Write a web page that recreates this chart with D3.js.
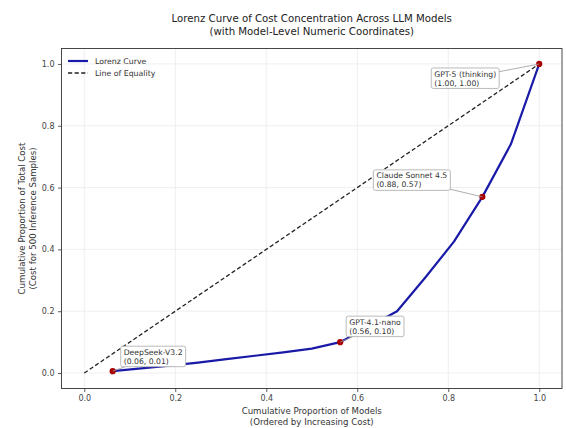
<!DOCTYPE html>
<html>
<head>
<meta charset="utf-8">
<script src="https://cdn.jsdelivr.net/npm/d3@7"></script>
<style>
  html, body { margin: 0; padding: 0; background: #fff; }
  svg { display: block; font-family: "DejaVu Sans", sans-serif; }
</style>
</head>
<body>
<svg id="chart" width="566" height="428"></svg>
<script>
// Cumulative share of models (sorted by increasing cost) and cumulative share of total cost
const modelShare = [0.0625, 0.125, 0.1875, 0.25, 0.3125, 0.375, 0.4375, 0.5,
                    0.5625, 0.625, 0.6875, 0.75, 0.8125, 0.875, 0.9375, 1.0];
const costShare  = [0.006, 0.015, 0.024, 0.034, 0.045, 0.056, 0.067, 0.079,
                    0.100, 0.150, 0.200, 0.310, 0.425, 0.570, 0.740, 1.000];

// Highlighted models and their position in the sorted list
const labelNames   = ["DeepSeek-V3.2", "GPT-4.1-nano", "Claude Sonnet 4.5", "GPT-5 (thinking)"];
const labelIndices = [0, 8, 13, 15];

const xTicks = [0.0, 0.2, 0.4, 0.6, 0.8, 1.0];
const yTicks = [0.0, 0.2, 0.4, 0.6, 0.8, 1.0];

const titleLines  = ["Lorenz Curve of Cost Concentration Across LLM Models",
                     "(with Model-Level Numeric Coordinates)"];
const xLabelLines = ["Cumulative Proportion of Models", "(Ordered by Increasing Cost)"];
const yLabelLines = ["Cumulative Proportion of Total Cost", "(Cost for 500 Inference Samples)"];
const legendItems = ["Lorenz Curve", "Line of Equality"];

// Label box offsets (px) from each highlighted point to the box's top-left corner
const labelOffsets = [[8, -25], [6, -26], [-109, -27], [-108, 4]];

const svg = d3.select("#chart");
const plot = { left: 61.5, right: 562, top: 48.5, bottom: 388.5 };

const x = d3.scaleLinear().domain([-0.05, 1.05]).range([plot.left, plot.right]);
const y = d3.scaleLinear().domain([-0.05, 1.05]).range([plot.bottom, plot.top]);

const fmt = d3.format(".2f");
const tickFmt = d3.format(".1f");

// grid
const grid = svg.append("g");
grid.selectAll("line.gx").data(xTicks).join("line")
  .attr("x1", d => x(d)).attr("x2", d => x(d))
  .attr("y1", plot.top).attr("y2", plot.bottom)
  .attr("stroke", "#ebebeb").attr("stroke-width", 0.8);
grid.selectAll("line.gy").data(yTicks).join("line")
  .attr("y1", d => y(d)).attr("y2", d => y(d))
  .attr("x1", plot.left).attr("x2", plot.right)
  .attr("stroke", "#ebebeb").attr("stroke-width", 0.8);

// axes
const xAxis = svg.append("g")
  .attr("transform", `translate(0,${plot.bottom})`)
  .call(d3.axisBottom(x).tickValues(xTicks).tickFormat(tickFmt).tickSize(3.5).tickPadding(3.5));
const yAxis = svg.append("g")
  .attr("transform", `translate(${plot.left},0)`)
  .call(d3.axisLeft(y).tickValues(yTicks).tickFormat(tickFmt).tickSize(3.5).tickPadding(3.5));
[xAxis, yAxis].forEach(a => {
  a.select(".domain").remove();
  a.selectAll(".tick line").attr("stroke", "#333").attr("stroke-width", 0.8);
  a.selectAll(".tick text").attr("fill", "#444").attr("font-size", 8)
    .attr("font-family", "DejaVu Sans, sans-serif");
});

// frame
svg.append("rect")
  .attr("x", plot.left).attr("y", plot.top)
  .attr("width", plot.right - plot.left).attr("height", plot.bottom - plot.top)
  .attr("fill", "none").attr("stroke", "#333").attr("stroke-width", 0.9);

// line of equality
svg.append("line")
  .attr("x1", x(0)).attr("y1", y(0)).attr("x2", x(1)).attr("y2", y(1))
  .attr("stroke", "#222").attr("stroke-width", 1.3)
  .attr("stroke-dasharray", "4.2,2.4");

// Lorenz curve
const pts = modelShare.map((m, i) => [m, costShare[i]]);
svg.append("path")
  .datum(pts)
  .attr("d", d3.line().x(d => x(d[0])).y(d => y(d[1])))
  .attr("fill", "none").attr("stroke", "#1a1aa8").attr("stroke-width", 2.2)
  .attr("stroke-linejoin", "round");

// highlighted points
svg.selectAll("circle.pt").data(labelIndices).join("circle")
  .attr("cx", i => x(modelShare[i])).attr("cy", i => y(costShare[i]))
  .attr("r", 3.1).attr("fill", "#a80000");

// annotations: connector, box, two-line text
labelIndices.forEach((idx, k) => {
  const px = x(modelShare[idx]), py = y(costShare[idx]);
  const bx = px + labelOffsets[k][0], by = py + labelOffsets[k][1];
  const g = svg.append("g");
  const conn = g.append("line").attr("stroke", "#999").attr("stroke-width", 0.8);
  const box = g.append("rect").attr("rx", 2).attr("ry", 2)
    .attr("fill", "#fff").attr("stroke", "#aaa").attr("stroke-width", 0.8);
  const t = g.append("text").attr("font-size", 7.7).attr("fill", "#333");
  const lines = [labelNames[k], `(${fmt(modelShare[idx])}, ${fmt(costShare[idx])})`];
  lines.forEach((s, j) => {
    t.append("tspan").attr("x", bx + 3).attr("y", by + 8.6 + j * 9).text(s);
  });
  const bb = t.node().getBBox();
  const w = bb.width + 6, h = 20.5;
  box.attr("x", bx).attr("y", by).attr("width", w).attr("height", h);
  conn.attr("x1", bx + w / 2).attr("y1", by + h / 2).attr("x2", px).attr("y2", py);
});

// legend
const lg = svg.append("g");
legendItems.forEach((name, i) => {
  const ly = 61 + i * 12;
  lg.append("line")
    .attr("x1", 68).attr("x2", 88).attr("y1", ly).attr("y2", ly)
    .attr("stroke", i === 0 ? "#1a1aa8" : "#222")
    .attr("stroke-width", i === 0 ? 2.2 : 1.3)
    .attr("stroke-dasharray", i === 0 ? null : "4.2,2.4");
  lg.append("text").attr("x", 95).attr("y", ly + 2.8)
    .attr("font-size", 7.8).attr("fill", "#333").text(name);
});

// title
const cx = (plot.left + plot.right) / 2;
svg.append("text").attr("text-anchor", "middle").attr("font-size", 10.2).attr("fill", "#222")
  .selectAll("tspan").data(titleLines).join("tspan")
  .attr("x", cx).attr("y", (d, i) => 22 + i * 12.5).text(d => d);

// x label
svg.append("text").attr("text-anchor", "middle").attr("font-size", 8.6).attr("fill", "#333")
  .selectAll("tspan").data(xLabelLines).join("tspan")
  .attr("x", cx).attr("y", (d, i) => 414 + i * 10.5).text(d => d);

// y label
const cy = (plot.top + plot.bottom) / 2;
svg.append("text").attr("text-anchor", "middle").attr("font-size", 8.6).attr("fill", "#333")
  .attr("transform", `translate(0,${cy}) rotate(-90)`)
  .selectAll("tspan").data(yLabelLines).join("tspan")
  .attr("x", 0).attr("y", (d, i) => 25 + i * 10.5).text(d => d);
</script>
</body>
</html>
